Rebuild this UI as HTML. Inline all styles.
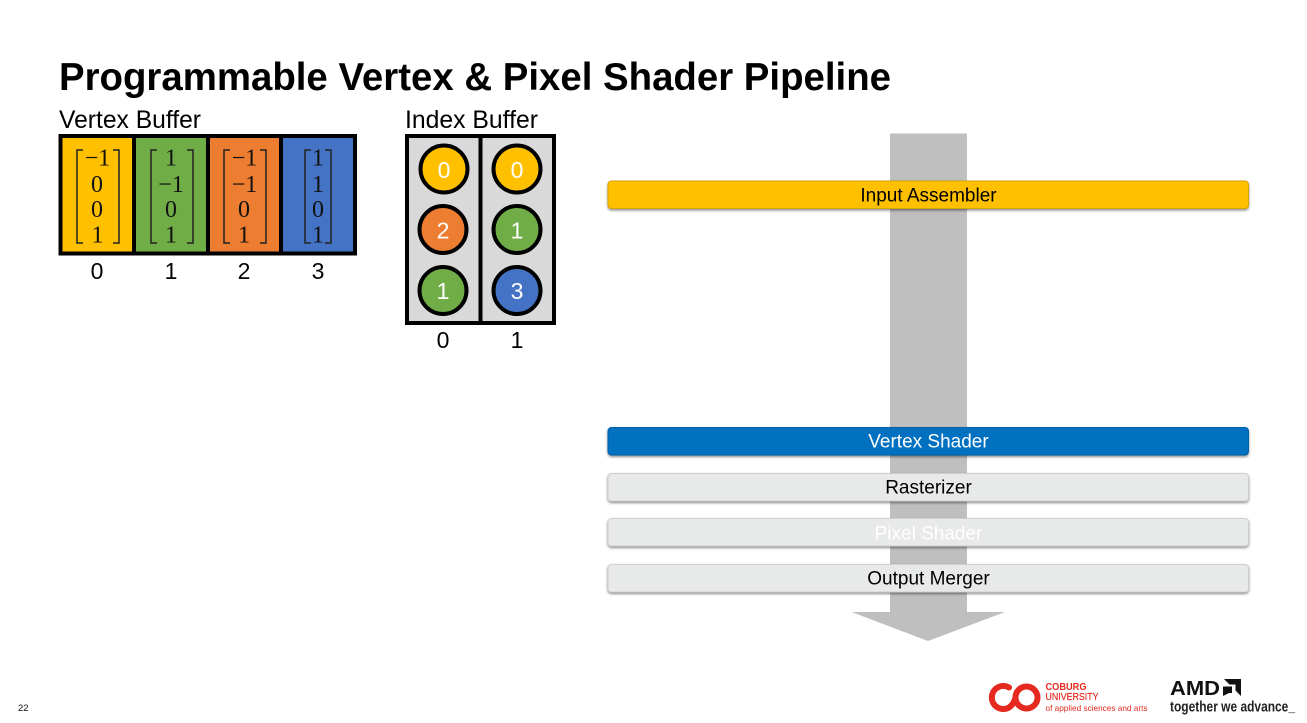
<!DOCTYPE html>
<html><head><meta charset="utf-8"><style>
html,body{margin:0;padding:0;background:#fff}
svg{display:block}
text{font-family:"Liberation Sans",sans-serif}
.m{font-family:"Liberation Serif",serif;font-size:24px;text-anchor:middle;fill:#111}
.l{font-size:23px;text-anchor:middle;fill:#000}
.c{font-size:23px;text-anchor:middle;fill:#fff}
.b{font-size:19px;text-anchor:middle}
</style></head><body>
<svg width="1307" height="723" viewBox="0 0 1307 723" xmlns="http://www.w3.org/2000/svg">
<defs><filter id="s" x="-2%" y="-30%" width="104%" height="170%"><feDropShadow dx="0" dy="1.500" stdDeviation="1.200" flood-color="#000" flood-opacity=".45"/></filter></defs>
<rect width="1307" height="723" fill="#fff"/>
<text x="59" y="90" font-size="38.500" font-weight="700" textLength="832" lengthAdjust="spacingAndGlyphs">Programmable Vertex &amp; Pixel Shader Pipeline</text>
<text x="59" y="128" font-size="25" textLength="142" lengthAdjust="spacingAndGlyphs">Vertex Buffer</text>
<text x="405" y="128" font-size="25" textLength="133" lengthAdjust="spacingAndGlyphs">Index Buffer</text>

<rect x="60.500" y="136" width="73.500" height="117" fill="#ffc000"/>
<rect x="134" y="136" width="74" height="117" fill="#70ad47"/>
<rect x="208" y="136" width="73" height="117" fill="#ed7d31"/>
<rect x="281" y="136" width="74" height="117" fill="#4472c4"/>
<g fill="none" stroke="#000" stroke-width="4"><rect x="60.500" y="136" width="294.500" height="117.500"/><path d="M134 136V253M208 136V253M281 136V253"/></g>
<g fill="none" stroke="#222" stroke-width="1.500">
<path d="M83 150h-6v93h6M113 150h6v93h-6"/>
<path d="M157 150h-6v93h6M187 150h6v93h-6"/>
<path d="M230 150h-6v93h6M260 150h6v93h-6"/>
<path d="M311 150h-6v93h6M325 150h6v93h-6"/>
</g>
<text class="m" x="97.500" y="165.500">−1</text><text class="m" x="97" y="192">0</text><text class="m" x="97" y="217">0</text><text class="m" x="97.500" y="242.500">1</text>
<text class="m" x="171" y="165.500">1</text><text class="m" x="171" y="192">−1</text><text class="m" x="171" y="217">0</text><text class="m" x="171" y="242.500">1</text>
<text class="m" x="244.500" y="165.500">−1</text><text class="m" x="244.500" y="192">−1</text><text class="m" x="244" y="217">0</text><text class="m" x="244" y="242.500">1</text>
<text class="m" x="318" y="165.500">1</text><text class="m" x="318" y="192">1</text><text class="m" x="318" y="217">0</text><text class="m" x="318" y="242.500">1</text>
<text class="l" x="97" y="279">0</text><text class="l" x="171" y="279">1</text><text class="l" x="244" y="279">2</text><text class="l" x="318" y="279">3</text>

<rect x="407" y="136" width="147" height="187" fill="#d9d9d9" stroke="#000" stroke-width="4"/>
<path d="M480.500 136V323" stroke="#000" stroke-width="4"/>
<g stroke="#000" stroke-width="4">
<circle cx="444" cy="169" r="23.500" fill="#ffc000"/><circle cx="443" cy="229.500" r="23.500" fill="#ed7d31"/><circle cx="443" cy="290.500" r="23.500" fill="#70ad47"/>
<circle cx="517" cy="169" r="23.500" fill="#ffc000"/><circle cx="517" cy="229.500" r="23.500" fill="#70ad47"/><circle cx="517" cy="290.500" r="23.500" fill="#4472c4"/>
</g>
<text class="c" x="444" y="178">0</text><text class="c" x="443" y="238.500">2</text><text class="c" x="443" y="299">1</text>
<text class="c" x="517" y="178">0</text><text class="c" x="517" y="238.500">1</text><text class="c" x="517" y="299">3</text>
<text class="l" x="443" y="348">0</text><text class="l" x="517" y="348">1</text>

<path d="M890 133.500H967V612H1005L928 641L851.500 612H890Z" fill="#bfbfbf"/>

<g filter="url(#s)">
<rect x="608" y="181" width="640.500" height="27.500" rx="3.500" fill="#ffc000" stroke="#d9a300"/>
<rect x="608" y="427.500" width="640.500" height="27.500" rx="3.500" fill="#0070c0" stroke="#0062a8"/>
<rect x="608" y="473.500" width="640.500" height="27.500" rx="3.500" fill="#e8e9e9" stroke="#cfcfcf"/>
<rect x="608" y="518.500" width="640.500" height="27.500" rx="3.500" fill="#e8e9e9" stroke="#cfcfcf"/>
<rect x="608" y="564.500" width="640.500" height="27.500" rx="3.500" fill="#e8e9e9" stroke="#cfcfcf"/>
</g>
<text class="b" x="928.500" y="201.500" fill="#000">Input Assembler</text>
<text class="b" x="928.500" y="447.500" fill="#fff">Vertex Shader</text>
<text class="b" x="928.500" y="493.500" fill="#000">Rasterizer</text>
<text class="b" x="928.500" y="539.500" fill="#fff">Pixel Shader</text>
<text class="b" x="928.500" y="584.500" fill="#000">Output Merger</text>

<text x="18" y="711" font-size="9.500" fill="#111">22</text>

<g fill="none" stroke="#e5291f" stroke-width="6" stroke-linecap="round">
<path d="M1009 687.500A11.500 11.500 0 1 0 1009 707.500Q1013 705 1015.500 698"/>
<circle cx="1026.500" cy="697.500" r="11"/>
</g>
<text x="1045.500" y="690" font-size="10" font-weight="700" fill="#e5291f" textLength="41" lengthAdjust="spacingAndGlyphs">COBURG</text>
<text x="1045.500" y="700" font-size="10" fill="#e5291f" stroke="#e5291f" stroke-width=".2" textLength="53" lengthAdjust="spacingAndGlyphs">UNIVERSITY</text>
<text x="1045.500" y="711" font-size="8.500" fill="#e5291f" textLength="102" lengthAdjust="spacingAndGlyphs">of applied sciences and arts</text>
<text x="1170" y="695" font-size="20" font-weight="700" fill="#111" textLength="50" lengthAdjust="spacingAndGlyphs">AMD</text>
<path d="M1224 679H1241V696L1235.500 690.500V684.500H1229.500ZM1223 686.500H1232V693H1229L1223 696Z" fill="#111"/>
<text x="1170" y="711.500" font-size="15" font-weight="700" fill="#222" textLength="125" lengthAdjust="spacingAndGlyphs">together we advance_</text>
</svg>
</body></html>
